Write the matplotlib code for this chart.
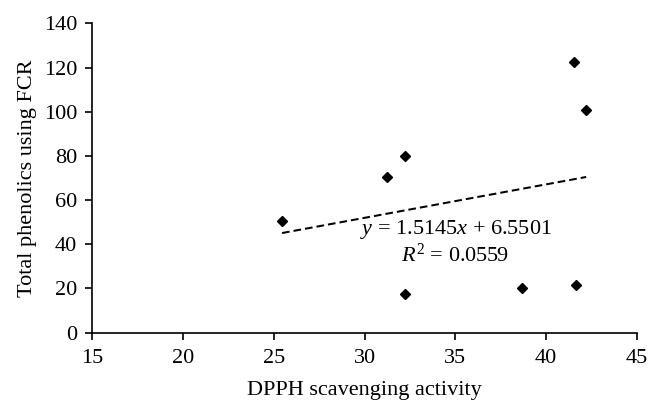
import numpy as np
import matplotlib.pyplot as plt

plt.rcParams['font.family'] = ['Liberation Serif', 'DejaVu Serif']
plt.rcParams['mathtext.fontset'] = 'custom'
plt.rcParams['mathtext.rm'] = 'Liberation Serif'
plt.rcParams['mathtext.it'] = 'Liberation Serif:italic'

# DPPH scavenging activity vs total phenolics (FCR)
dpph = [25.45, 31.25, 32.2, 41.55, 42.2, 32.25, 38.65, 41.65]
fcr = [50.7, 70.3, 79.9, 122.6, 100.6, 17.6, 20.1, 21.4]

slope = 1.5145
intercept = 6.5501
r2 = 0.0559

fig = plt.figure(figsize=(6.61, 4.12), dpi=100)
ax = fig.add_axes([0.1396, 0.1925, 0.8241, 0.7509])

ax.plot(dpph, fcr, 'kD', markersize=5.5, linestyle='none')

xfit = np.array([min(dpph), max(dpph)])
ax.plot(xfit, slope * xfit + intercept, color='black', linestyle=(0, (3.8, 2.0)), linewidth=1.45)

ax.text(29.75, 46.9, r'$y$ = %.4f$x$ + %.4f' % (slope, intercept), fontsize=16, va='center', ha='left')
ax.text(32.0, 35.0, r'$R^2$ = %.4f' % r2, fontsize=16, va='center', ha='left')

ax.set_xlim(15, 45)
ax.set_ylim(0, 140)
ax.set_xticks(range(15, 46, 5))
ax.set_yticks(range(0, 141, 20))
ax.spines['top'].set_visible(False)
ax.spines['right'].set_visible(False)
ax.spines['left'].set_linewidth(1.2)
ax.spines['bottom'].set_linewidth(1.2)
ax.tick_params(direction='out', length=5, width=1.2, labelsize=16)
ax.tick_params(axis='x', pad=7)
ax.tick_params(axis='y', pad=6)

ax.set_xlabel('DPPH scavenging activity', fontsize=16, labelpad=9)
ax.set_ylabel('Total phenolics using FCR', fontsize=16, labelpad=5)

fig.savefig('out.png', dpi=100)
